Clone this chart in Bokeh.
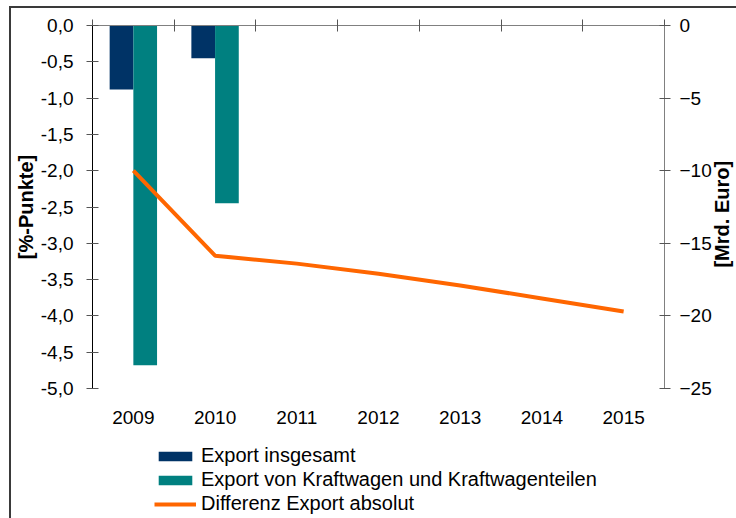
import numpy as np
from bokeh.plotting import figure
from bokeh.layouts import column
from bokeh.models import (Range1d, LinearAxis, FixedTicker, Legend, LegendItem,
                          CustomJSTickFormatter)
from bokeh.embed import file_html
from bokeh.resources import INLINE

# ---- data ----
years = ["2009", "2010", "2011", "2012", "2013", "2014", "2015"]
bar_years = ["2009", "2010"]
export_insgesamt = [-0.88, -0.45]          # [%-Punkte]
export_kraftwagen = [-4.68, -2.45]         # [%-Punkte]
differenz_absolut = [-10.0, -15.85, -16.4, -17.1, -17.9, -18.8, -19.7]  # [Mrd. Euro]
left_ticks = [0.0, -0.5, -1.0, -1.5, -2.0, -2.5, -3.0, -3.5, -4.0, -4.5, -5.0]
right_ticks = [0, -5, -10, -15, -20, -25]
legend_labels = ["Export insgesamt",
                 "Export von Kraftwagen und Kraftwagenteilen",
                 "Differenz Export absolut"]
right_title = "[Mrd. Euro]"
right_title_start = -16.67   # where the right-hand title starts (Mrd. Euro scale)

NAVY = "#003366"
TEAL = "#008080"
ORANGE = "#FF6600"
FONT = "Liberation Sans"

x_all = list(range(len(years)))
x_bar = [years.index(y) for y in bar_years]
bar_w = 0.29

p = figure(width=736, height=430, x_range=Range1d(-0.5, len(years) - 0.5),
           y_range=Range1d(-5, 0), output_backend="svg", toolbar_location=None,
           x_axis_location=None, y_axis_location=None,
           min_border_left=80, min_border_right=64, min_border_top=17,
           min_border_bottom=50)
p.grid.visible = False
p.outline_line_color = None
p.extra_y_ranges = {"right": Range1d(-25, 0)}

p.vbar(x=[x - bar_w / 2 for x in x_bar], width=bar_w, top=0,
       bottom=export_insgesamt, fill_color=NAVY, line_color=None)
p.vbar(x=[x + bar_w / 2 for x in x_bar], width=bar_w, top=0,
       bottom=export_kraftwagen, fill_color=TEAL, line_color=None)
p.line(x=x_all, y=differenz_absolut, y_range_name="right",
       line_color=ORANGE, line_width=4)

# left axis
la = LinearAxis(ticker=FixedTicker(ticks=left_ticks),
                formatter=CustomJSTickFormatter(code="return tick.toFixed(1).replace('.', ',');"),
                axis_label="[%-Punkte]")
la.axis_line_color = "black"
la.major_tick_line_color = "#555555"
la.major_tick_in = 6
la.major_tick_out = 6
la.minor_tick_line_color = None
la.major_label_standoff = 13
la.major_label_text_font = FONT
la.major_label_text_font_size = "19px"
la.major_label_text_color = "black"
la.axis_label_text_font = FONT
la.axis_label_text_font_size = "20px"
la.axis_label_text_font_style = "bold"
la.axis_label_text_color = "black"
la.axis_label_standoff = 1
p.add_layout(la, "left")

# right axis
ra = LinearAxis(y_range_name="right", ticker=FixedTicker(ticks=right_ticks))
ra.axis_line_color = "#808080"
ra.major_tick_line_color = "#555555"
ra.major_tick_in = 5
ra.major_tick_out = 6
ra.minor_tick_line_color = None
ra.major_label_standoff = 9
ra.major_label_text_font = FONT
ra.major_label_text_font_size = "19px"
ra.major_label_text_color = "black"
p.add_layout(ra, "right")

# right-hand title, reading bottom-to-top
rt = LinearAxis(y_range_name="right", ticker=FixedTicker(ticks=[right_title_start]),
                formatter=CustomJSTickFormatter(code="return %r;" % right_title))
rt.axis_line_color = None
rt.major_tick_line_color = None
rt.minor_tick_line_color = None
rt.major_tick_in = 0
rt.major_tick_out = 0
rt.major_label_standoff = 8
rt.major_label_orientation = np.pi / 2
rt.major_label_text_font = FONT
rt.major_label_text_font_size = "20px"
rt.major_label_text_font_style = "bold"
rt.major_label_text_color = "black"
rt.major_label_text_line_height = 0.7
p.add_layout(rt, "right")

# top axis line (category axis crossing at 0)
ta = LinearAxis(ticker=FixedTicker(ticks=[i - 0.5 for i in range(len(years) + 1)]),
                formatter=CustomJSTickFormatter(code="return '';"))
ta.axis_line_color = "#808080"
ta.major_tick_line_color = "#555555"
ta.major_tick_in = 6
ta.major_tick_out = 6
ta.minor_tick_line_color = None
ta.major_label_standoff = 0
ta.major_label_text_font_size = "1px"
p.add_layout(ta, "above")

# bottom category labels
ba = LinearAxis(ticker=FixedTicker(ticks=x_all),
                major_label_overrides={i: y for i, y in enumerate(years)})
ba.axis_line_color = None
ba.major_tick_line_color = None
ba.minor_tick_line_color = None
ba.major_tick_in = 0
ba.major_tick_out = 0
ba.major_label_standoff = 22
ba.major_label_text_font = FONT
ba.major_label_text_font_size = "19px"
ba.major_label_text_color = "black"
p.add_layout(ba, "below")

# ---- legend strip (separate figure below the chart) ----
nan = float("nan")
lg = figure(width=736, height=80, x_range=Range1d(0, 1), y_range=Range1d(0, 1),
            output_backend="svg", toolbar_location=None,
            x_axis_location=None, y_axis_location=None, min_border=0)
lg.grid.visible = False
lg.outline_line_color = None
d1 = lg.vbar(x=[nan], width=bar_w, top=[nan], fill_color=NAVY, line_color=None)
d2 = lg.vbar(x=[nan], width=bar_w, top=[nan], fill_color=TEAL, line_color=None)
d3 = lg.line(x=[nan], y=[nan], line_color=ORANGE, line_width=4)

legend = Legend(items=[LegendItem(label=t, renderers=[r])
                       for t, r in zip(legend_labels, [d1, d2, d3])],
                location=(62, 3))
legend.padding = 0
legend.margin = 0
legend.border_line_color = None
legend.background_fill_alpha = 0
legend.glyph_width = 42
legend.glyph_height = 12
legend.label_height = 23
legend.spacing = 1
legend.label_standoff = 5
legend.label_text_font = FONT
legend.label_text_font_size = "20px"
legend.label_text_color = "black"
lg.add_layout(legend, "center")

layout = column(p, lg, spacing=0)
layout.styles = {"margin-left": "9px", "margin-top": "6px",
                 "border-top": "2px solid #3a3a3a", "border-left": "2px solid #3a3a3a"}

open("out.html", "w").write(file_html(layout, INLINE))
